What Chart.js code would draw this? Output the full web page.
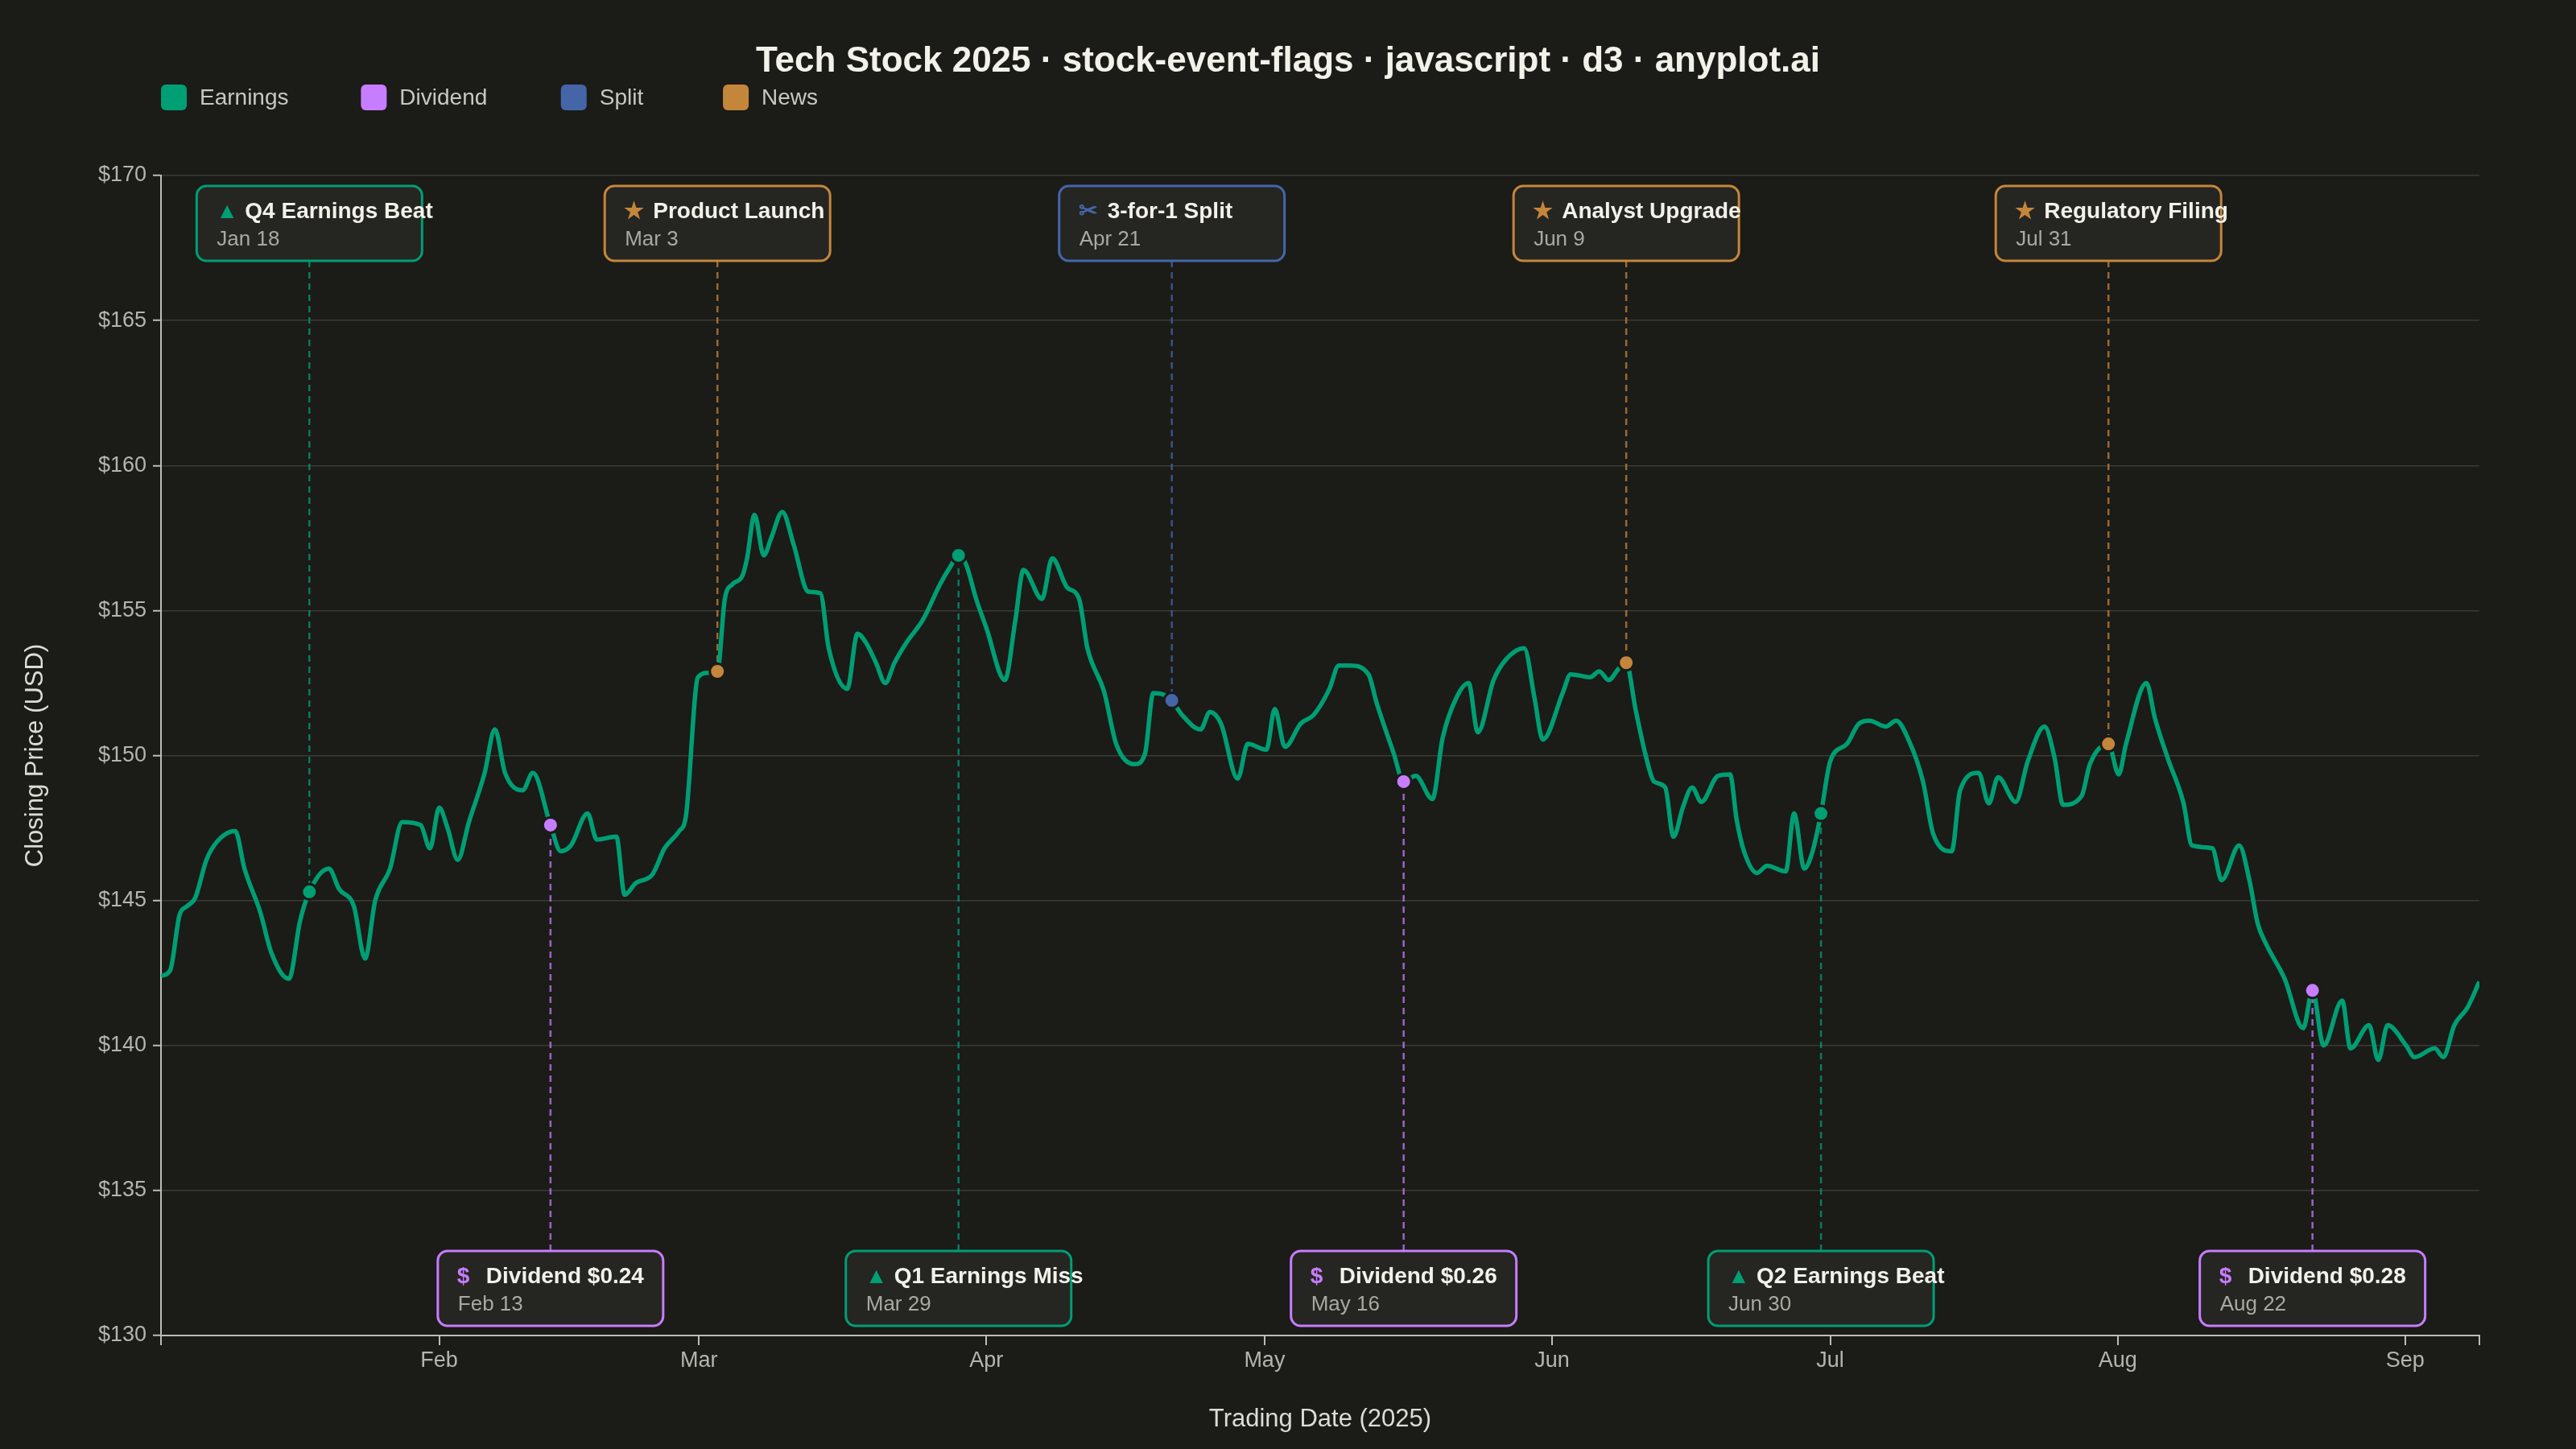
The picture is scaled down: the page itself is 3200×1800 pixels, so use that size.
<!DOCTYPE html>
<html>
<head>
<meta charset="utf-8">
<title>Tech Stock 2025 · stock-event-flags</title>
<script src="https://cdn.jsdelivr.net/npm/chart.js@4.4.1/dist/chart.umd.min.js"></script>
<style>
  html, body { margin: 0; padding: 0; background: #1b1b18; }
  canvas { display: block; }
</style>
</head>
<body>
<canvas id="chart" width="3200" height="1800"></canvas>
<script>
// closing prices, x = days since Jan 1 2025
const tradeDays = [
    1, 2, 3, 3.8, 4.7, 5.9, 7.1, 9, 10, 11.7, 12.9, 14.8, 16, 17, 19.1, 20.2, 21.8, 23, 24.1, 25.7,
    27, 29, 30, 31, 31.9, 33, 34.2, 35.9, 37, 38.1, 40, 41.1, 43, 44.1, 45.2, 47, 48, 50.1, 51, 52.2,
    54, 55.3, 56.9, 57.6, 58.9, 60, 61,
    61.8, 62.6, 63.7, 64.2, 65, 66, 66.8, 68, 69.2, 70.8, 72.1, 73, 75, 76.1, 77, 78.1, 79.1, 80.1, 81.4, 83.2,
    85, 86.1, 87, 87.8, 88.9, 90, 92, 93.1, 94, 96, 97.1, 98.7, 100, 100.9, 102.7, 104, 106, 107.1, 108, 109.1,
    110, 111.1, 113.1, 114.1, 115.3, 117.1, 118.2, 120.2, 121.1, 122.2, 123.9, 125.3,
    127, 128, 129.2, 131.2, 132.1, 133.9, 135, 136.3, 138.1, 139.2, 140.7, 142, 143, 144.7, 146, 148, 149.1, 150, 152.2, 153,
    155.1, 156.1, 157.1, 158.2, 159, 160, 161.1, 162, 163.2, 164.1, 165.1, 166.1, 167.1, 168.9, 170.2, 170.9, 171.7, 173.1, 174.2, 176.2,
    177.1, 178.2, 179.1, 180, 181, 182.8, 184.1, 185.2, 187, 188.1, 189.5, 191, 192.1, 194.1, 195,
    197, 198.1, 199.1, 201, 202.3, 204.1, 205.2, 206.1, 208.1, 209, 211, 212.1, 212.9, 215.1, 216, 217.4, 219.1, 220, 222.2, 223.2,
    225.1, 226.2, 227.1, 228, 230, 232, 233, 234.2, 236.2, 237.1, 239.1, 240.1, 241.1, 243.1, 244, 246.2, 247.1, 248.3, 249.7, 251
];
const closePrices = [
    142.4, 142.6, 144.5, 144.8, 145.1, 146.4, 147.05, 147.4, 146.1, 144.6, 143.2, 142.3, 144.3, 145.3, 146.1, 145.4, 144.8, 143.0, 145.0, 146.1,
    147.7, 147.6, 146.8, 148.2, 147.5, 146.4, 147.7, 149.4, 150.9, 149.4, 148.8, 149.4, 147.6, 146.7, 146.9, 148.0, 147.1, 147.2, 145.2, 145.6,
    145.9, 146.8, 147.4, 147.9, 152.7, 152.85, 152.9,
    155.4, 155.9, 156.2, 156.8, 158.3, 156.9, 157.5, 158.4, 157.3, 155.65, 155.6, 153.7, 152.3, 154.2, 153.9, 153.2, 152.5, 153.2, 153.9, 154.7,
    155.9, 156.5, 156.9, 156.6, 155.4, 154.4, 152.6, 154.6, 156.4, 155.4, 156.8, 155.8, 155.4, 153.7, 152.2, 150.4, 149.7, 150.05, 152.15, 152.1,
    151.9, 151.4, 150.9, 151.5, 151.1, 149.2, 150.4, 150.2, 151.6, 150.3, 151.1, 151.4,
    152.3, 153.1, 153.1, 152.8, 151.8, 150.1, 149.1, 149.3, 148.5, 150.6, 152.0, 152.5, 150.8, 152.6, 153.3, 153.7, 152.0, 150.55, 152.2, 152.8,
    152.7, 152.9, 152.6, 153.0, 153.2, 151.6, 150.0, 149.1, 148.9, 147.2, 148.2, 148.9, 148.4, 149.3, 149.35, 147.8, 146.7, 145.95, 146.2, 146.0,
    148.0, 146.1, 146.7, 148.0, 149.8, 150.4, 151.1, 151.2, 151.0, 151.2, 150.5, 149.1, 147.3, 146.7, 148.8,
    149.4, 148.35, 149.25, 148.4, 149.8, 151.0, 149.9, 148.3, 148.6, 149.7, 150.4, 149.35, 150.4, 152.5, 151.3, 149.9, 148.35, 146.9, 146.8, 145.7,
    146.9, 145.7, 144.2, 143.5, 142.3, 140.6, 141.9, 140.0, 141.55, 139.9, 140.7, 139.5, 140.7, 140.0, 139.6, 139.9, 139.6, 140.7, 141.3, 142.2
];

// events
const eventDays = [17, 43, 61, 87, 110, 135, 159, 180, 211, 233];
const eventTypes = ['Earnings', 'Dividend', 'News', 'Earnings', 'Split', 'Dividend', 'News', 'Earnings', 'News', 'Dividend'];
const eventTitles = ['Q4 Earnings Beat', 'Dividend $0.24', 'Product Launch', 'Q1 Earnings Miss', '3-for-1 Split',
    'Dividend $0.26', 'Analyst Upgrade', 'Q2 Earnings Beat', 'Regulatory Filing', 'Dividend $0.28'];
const eventDates = ['Jan 18', 'Feb 13', 'Mar 3', 'Mar 29', 'Apr 21', 'May 16', 'Jun 9', 'Jun 30', 'Jul 31', 'Aug 22'];
const eventSides = ['top', 'bottom', 'top', 'bottom', 'top', 'bottom', 'top', 'bottom', 'top', 'bottom'];

const typeNames = ['Earnings', 'Dividend', 'Split', 'News'];
const typeColors = ['#009E73', '#C77DFF', '#4466A8', '#C4863A'];
const typeSymbols = ['▲', '$', '✂', '★'];

// axes
const monthTicks = [31, 59, 90, 120, 151, 181, 212, 243];
const monthLabels = ['Feb', 'Mar', 'Apr', 'May', 'Jun', 'Jul', 'Aug', 'Sep'];
const dayMin = 1;
const dayMax = 251;

const FONT = "'Liberation Sans', Arial, Helvetica, sans-serif";
const BG = '#1b1b18';
const BOX_FILL = '#252522';
const AXIS = '#bdbdb5';
const TICK_TEXT = '#b5b5ad';
const TEXT = '#f2f1ea';
const DATE_TEXT = '#a9a9a1';
const FLAG_W = 280;
const FLAG_H = 93;

const eventPrices = eventDays.map(d => closePrices[tradeDays.indexOf(d)]);

Chart.defaults.font.family = FONT;

const flagPlugin = {
    id: 'eventFlags',
    beforeDatasetsDraw(chart) {
        const { ctx, chartArea, scales: { x, y } } = chart;
        ctx.save();
        ctx.lineWidth = 2.5;
        ctx.setLineDash([8, 6]);
        ctx.globalAlpha = 0.75;
        eventDays.forEach((day, i) => {
            const px = x.getPixelForValue(day);
            const py = y.getPixelForValue(eventPrices[i]);
            const edge = eventSides[i] === 'top'
                ? chartArea.top + 13 + FLAG_H
                : chartArea.bottom - 12 - FLAG_H;
            ctx.strokeStyle = typeColors[typeNames.indexOf(eventTypes[i])];
            ctx.beginPath();
            ctx.moveTo(px, edge);
            ctx.lineTo(px, py);
            ctx.stroke();
        });
        ctx.restore();
    },
    afterDatasetsDraw(chart) {
        const { ctx, chartArea, scales: { x } } = chart;
        ctx.save();
        eventDays.forEach((day, i) => {
            const t = typeNames.indexOf(eventTypes[i]);
            const left = x.getPixelForValue(day) - FLAG_W / 2;
            const top = eventSides[i] === 'top'
                ? chartArea.top + 13
                : chartArea.bottom - 12 - FLAG_H;

            ctx.fillStyle = BOX_FILL;
            ctx.strokeStyle = typeColors[t];
            ctx.lineWidth = 3;
            ctx.beginPath();
            ctx.roundRect(left, top, FLAG_W, FLAG_H, 12);
            ctx.fill();
            ctx.stroke();

            ctx.textAlign = 'left';
            ctx.textBaseline = 'middle';
            ctx.font = `bold 28px ${FONT}`;
            ctx.fillStyle = typeColors[t];
            ctx.fillText(typeSymbols[t], left + 24, top + 32);
            ctx.fillStyle = TEXT;
            ctx.fillText(eventTitles[i], left + 60, top + 32);

            ctx.font = `26px ${FONT}`;
            ctx.fillStyle = DATE_TEXT;
            ctx.fillText(eventDates[i], left + 25, top + 67);
        });
        ctx.restore();
    },
    afterDraw(chart) {
        const { ctx } = chart;
        ctx.save();
        // title
        ctx.textAlign = 'center';
        ctx.textBaseline = 'middle';
        ctx.font = `bold 44px ${FONT}`;
        ctx.fillStyle = TEXT;
        ctx.fillText('Tech Stock 2025 · stock-event-flags · javascript · d3 · anyplot.ai', 1600, 77);

        // legend, item spacing follows label length
        ctx.textAlign = 'left';
        ctx.font = `28px ${FONT}`;
        let lx = 200;
        typeNames.forEach((name, t) => {
            ctx.fillStyle = typeColors[t];
            ctx.beginPath();
            ctx.roundRect(lx, 105, 32, 32, 6);
            ctx.fill();
            ctx.fillStyle = '#c8c8c0';
            ctx.fillText(name, lx + 48, 122);
            lx += 123 + 15.67 * name.length;
        });
        ctx.restore();
    }
};

const markerSets = typeNames.map((name, t) => ({
    label: name,
    data: eventDays
        .map((d, i) => ({ x: d, y: eventPrices[i], kind: eventTypes[i] }))
        .filter(p => p.kind === name),
    showLine: false,
    pointRadius: 9.5,
    pointBackgroundColor: typeColors[t],
    pointBorderColor: BG,
    pointBorderWidth: 3,
    order: 0
}));

new Chart(document.getElementById('chart'), {
    type: 'line',
    data: {
        datasets: [{
            label: 'Close',
            data: tradeDays.map((d, i) => ({ x: d, y: closePrices[i] })),
            borderColor: '#009E73',
            borderWidth: 5.5,
            pointRadius: 0,
            cubicInterpolationMode: 'monotone',
            order: 1
        }, ...markerSets]
    },
    options: {
        responsive: false,
        devicePixelRatio: 1,
        animation: false,
        layout: { padding: { top: 218, right: 120, bottom: 0, left: 0 } },
        plugins: {
            legend: { display: false },
            title: { display: false },
            tooltip: { enabled: false }
        },
        scales: {
            x: {
                type: 'linear',
                min: dayMin,
                max: dayMax,
                afterBuildTicks: (scale) => {
                    scale.ticks = [dayMin, ...monthTicks, dayMax].map(v => ({ value: v }));
                },
                afterFit: (scale) => { scale.height = 141; },
                ticks: {
                    autoSkip: false,
                    maxRotation: 0,
                    padding: 3,
                    color: TICK_TEXT,
                    font: { size: 27 },
                    callback: (value) => {
                        const i = monthTicks.indexOf(value);
                        return i >= 0 ? monthLabels[i] : '';
                    }
                },
                grid: {
                    drawOnChartArea: false,
                    drawTicks: true,
                    tickLength: 12,
                    tickColor: AXIS,
                    tickWidth: 2,
                    lineWidth: 2
                },
                border: { display: true, color: AXIS, width: 2 },
                title: {
                    display: true,
                    text: 'Trading Date (2025)',
                    color: '#dcdcd4',
                    font: { size: 31 },
                    padding: { top: 0, bottom: 18 }
                }
            },
            y: {
                min: 130,
                max: 170,
                afterFit: (scale) => { scale.width = 200; },
                ticks: {
                    stepSize: 5,
                    padding: 8,
                    color: TICK_TEXT,
                    font: { size: 27 },
                    callback: (value) => '$' + value
                },
                grid: {
                    color: '#3a3a36',
                    lineWidth: 1.5,
                    tickLength: 10,
                    tickColor: AXIS,
                    tickWidth: 2
                },
                border: { display: true, color: AXIS, width: 2 },
                title: {
                    display: true,
                    text: 'Closing Price (USD)',
                    color: '#dcdcd4',
                    font: { size: 31 },
                    padding: { top: 26, bottom: 0 }
                }
            }
        }
    },
    plugins: [flagPlugin]
});
</script>
</body>
</html>
